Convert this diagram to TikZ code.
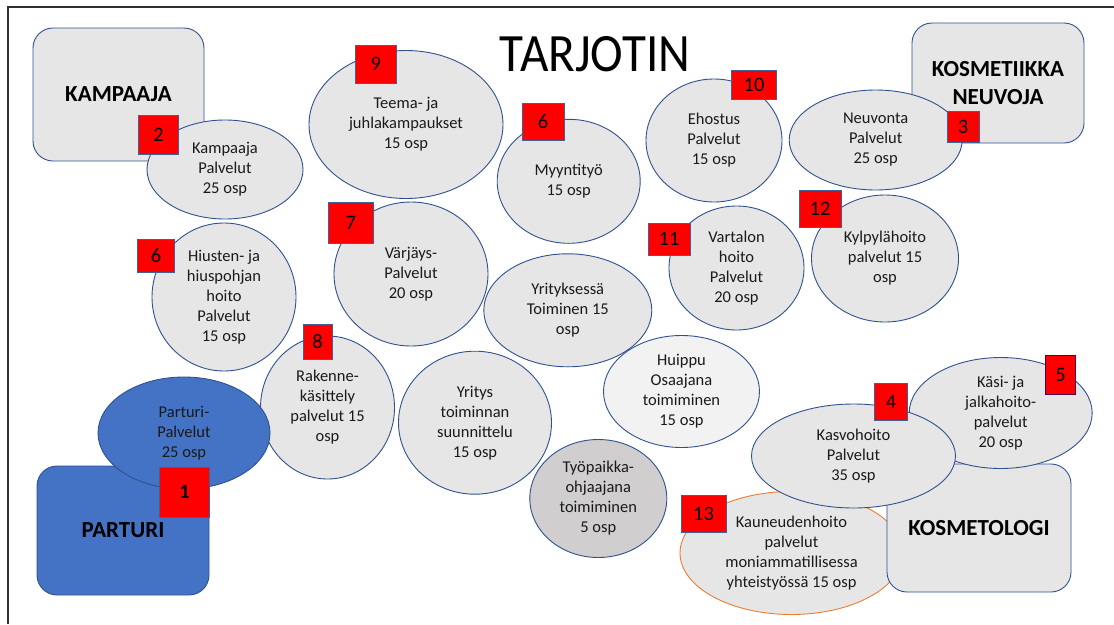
\documentclass[tikz,border=0pt]{standalone}
\usepackage{fontspec}
\setmainfont{Carlito}
\usetikzlibrary{shapes.geometric}
\definecolor{ovalgray}{HTML}{E7E6E6}
\definecolor{lightoval}{HTML}{F2F2F2}
\definecolor{darkoval}{HTML}{D0CECE}
\definecolor{bordblue}{HTML}{2F528F}
\definecolor{badgeedge}{HTML}{41609A}
\definecolor{parturiblue}{HTML}{4472C4}
\definecolor{orangeedge}{HTML}{ED7D31}
\definecolor{txt}{HTML}{1A1A1A}
\definecolor{framegray}{HTML}{303030}
\tikzset{
  oval/.style={ellipse, draw=bordblue, fill=ovalgray, line width=0.9pt, inner sep=0pt,
    align=center, text=txt, font=\fontsize{16.5}{20}\selectfont},
  rolebox/.style={rectangle, rounded corners=20pt, draw=bordblue, fill=ovalgray,
    line width=0.9pt, align=center, font=\fontsize{23}{28}\selectfont\bfseries},
  badge/.style={rectangle, draw=badgeedge, fill=red, line width=0.9pt, inner sep=0pt,
    font=\fontsize{20.5}{24}\selectfont},
}
\begin{document}
\begin{tikzpicture}[x=1pt, y=-1pt]
\useasboundingbox (0,0) rectangle (1114,624);
\fill[white] (0,0) rectangle (1114,624);
% outer frame
\coordinate (fbl) at (8,624);
\coordinate (ftl) at (8,7);
\coordinate (ftr) at (1114,7);
\draw[framegray, line width=1.5pt] (fbl) -- (ftl) -- (ftr);

% role boxes behind the ovals
\node[rolebox, minimum width=171pt, minimum height=133pt] (kampaaja) at (118.5,94.5) {KAMPAAJA};
\node[rolebox, minimum width=172pt, minimum height=120pt] (kosmneuv) at (998,83) {KOSMETIIKKA\\NEUVOJA};
\node[rolebox, fill=parturiblue, minimum width=172pt, minimum height=129pt] (parturi) at (123,530.5) {PARTURI};

% course ovals
\node[oval, minimum width=156pt, minimum height=99pt] (kampp) at (225,169.5) {Kampaaja\\Palvelut\\25 osp};
\node[oval, minimum width=194pt, minimum height=148pt] (teema) at (406,124.5) {Teema- ja\\juhlakampaukset\\15 osp};
\node[oval, minimum width=143pt, minimum height=124pt] (myynti) at (568.7,181.3) {Myyntityö\\15 osp};
\node[oval, minimum width=136pt, minimum height=123pt] (ehostus) at (714,140.5) {Ehostus\\Palvelut\\15 osp};
\node[oval, minimum width=173pt, minimum height=100pt] (neuvonta) at (875.7,140) {Neuvonta\\Palvelut\\25 osp};
\node[oval, minimum width=144pt, minimum height=148pt] (hiusten) at (224,297) {Hiusten- ja\\hiuspohjan\\hoito\\Palvelut\\15 osp};
\node[oval, minimum width=154pt, minimum height=144pt] (varjays) at (411,274) {Värjäys-\\Palvelut\\20 osp};
\node[oval, minimum width=168pt, minimum height=113pt] (yrityksessa) at (567.8,310.3) {Yrityksessä\\Toiminen 15\\osp};
\node[oval, minimum width=135pt, minimum height=124pt] (vartalo) at (736.5,268) {Vartalon\\hoito\\Palvelut\\20 osp};
\node[oval, minimum width=147pt, minimum height=127pt] (kylpyla) at (885,258.5) {Kylpylähoito\\palvelut 15\\osp};
\node[oval, minimum width=134pt, minimum height=143pt] (rakenne) at (327.5,407.5) {Rakenne-\\käsittely\\palvelut 15\\osp};
\node[oval, fill=parturiblue, minimum width=172pt, minimum height=112pt] (parturip) at (184,433) {Parturi-\\Palvelut\\25 osp};
\node[oval, minimum width=153pt, minimum height=143pt] (yritys) at (475,422.7) {Yritys\\toiminnan\\suunnittelu\\15 osp};
\node[oval, fill=lightoval, minimum width=156pt, minimum height=112pt] (huippu) at (681.5,391.5) {Huippu\\Osaajana\\toimiminen\\15 osp};
\node[oval, fill=darkoval, minimum width=137pt, minimum height=118pt] (tyopaikka) at (598.3,498.5) {Työpaikka-\\ohjaajana\\toimiminen\\5 osp};
\node[oval, draw=orangeedge, minimum width=223pt, minimum height=123pt] (kauneus) at (791.5,553) {Kauneudenhoito\\palvelut\\moniammatillisessa\\yhteistyössä 15 osp};

% cosmetologist box and its ovals on top
\node[rolebox, minimum width=184pt, minimum height=128pt] (kosmetologi) at (979,528) {KOSMETOLOGI};
\node[oval, minimum width=183pt, minimum height=111pt] (kasi) at (1000.7,413) {Käsi- ja\\jalkahoito-\\palvelut\\20 osp};
\node[oval, minimum width=204pt, minimum height=104pt] (kasvo) at (853.5,456) {Kasvohoito\\Palvelut\\35 osp};

% title
\node[anchor=base, inner sep=0pt, font=\fontsize{54}{60}\selectfont, xscale=0.91] (title) at (595,71.7) {TARJOTIN};

% numbered badges
\node[badge, minimum width=50pt, minimum height=50pt, font=\fontsize{20.5}{24}\selectfont\bfseries] (b1) at (184.5,492) {1};
\node[badge, minimum width=40pt, minimum height=39pt] (b2) at (158.6,134.5) {2};
\node[badge, minimum width=32pt, minimum height=31pt] (b3) at (963,126.5) {3};
\node[badge, minimum width=33pt, minimum height=37pt] (b4) at (891,401.5) {4};
\node[badge, draw=violet!60!black, minimum width=30pt, minimum height=39pt] (b5) at (1060.6,375) {5};
\node[badge, minimum width=42pt, minimum height=37pt] (b6a) at (543,122) {6};
\node[badge, minimum width=37pt, minimum height=33pt] (b6b) at (156,255.7) {6};
\node[badge, minimum width=45pt, minimum height=41pt] (b7) at (350.7,222.5) {7};
\node[badge, minimum width=29pt, minimum height=35pt] (b8) at (317.5,342) {8};
\node[badge, minimum width=41pt, minimum height=38pt] (b9) at (375.7,64) {9};
\node[badge, minimum width=44.5pt, minimum height=29pt] (b10) at (754,85.3) {10};
\node[badge, minimum width=42pt, minimum height=32pt] (b11) at (669,239) {11};
\node[badge, minimum width=42pt, minimum height=37pt] (b12) at (820,209) {12};
\node[badge, minimum width=45pt, minimum height=37pt] (b13) at (703.5,514) {13};
\end{tikzpicture}
\end{document}
